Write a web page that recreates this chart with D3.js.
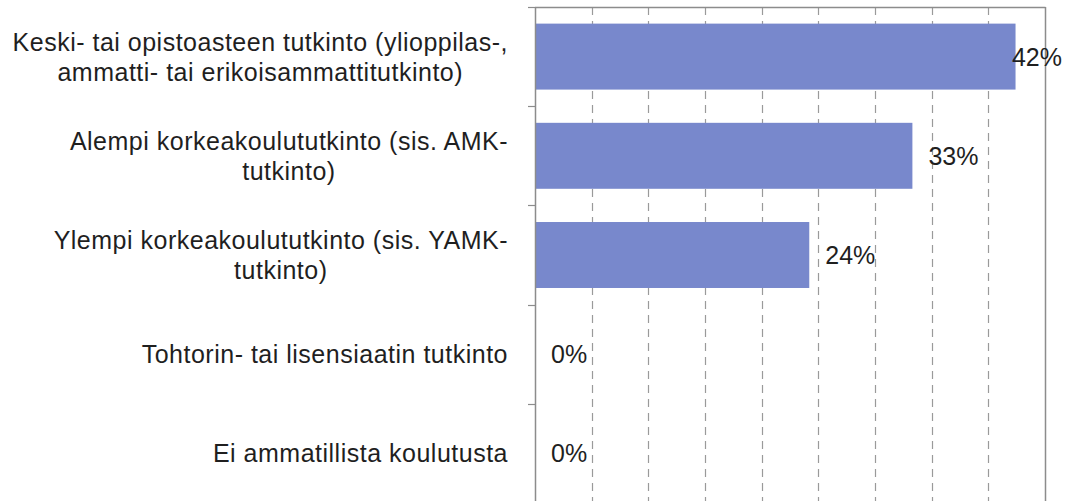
<!DOCTYPE html>
<html>
<head>
<meta charset="utf-8">
<script src="https://cdn.jsdelivr.net/npm/d3@7"></script>
<style>
  html, body { margin: 0; padding: 0; background: #fff; }
  svg { display: block; }
  text { font-family: "Liberation Sans", Arial, sans-serif; fill: #1f1f1f; }
</style>
</head>
<body>
<svg id="chart" width="1066" height="501"></svg>
<script>
// ---- data ----
const categories = [
  ["Keski- tai opistoasteen tutkinto (ylioppilas-,", "ammatti- tai erikoisammattitutkinto)"],
  ["Alempi korkeakoulututkinto (sis. AMK-", "tutkinto)"],
  ["Ylempi korkeakoulututkinto (sis. YAMK-", "tutkinto)"],
  ["Tohtorin- tai lisensiaatin tutkinto"],
  ["Ei ammatillista koulutusta"]
];
const values = [42.4, 33.3, 24.2, 0, 0];
const valueLabels = ["42%", "33%", "24%", "0%", "0%"];
const xTicks = [0, 5, 10, 15, 20, 25, 30, 35, 40, 45];

(function () {
// ---- layout ----
const W = 1066, H = 501;
const pLeft = 535, pRight = 1045, pTop = 7, pBottom = 503;
const svg = d3.select("#chart");

const x = d3.scaleLinear().domain([0, 45]).range([pLeft, pRight]);
const y = d3.scaleBand().domain(d3.range(categories.length))
  .range([pTop, pBottom]).paddingInner(0.335).paddingOuter(0.1675);

const gridColor = "#8c8c8c";

// gridlines (dashed)
svg.append("g").selectAll("line")
  .data(xTicks.slice(1, -1))
  .join("line")
  .attr("x1", d => Math.round(x(d)) + 0.5).attr("x2", d => Math.round(x(d)) + 0.5)
  .attr("y1", pTop).attr("y2", pBottom)
  .attr("stroke", "#9a9a9a").attr("stroke-width", 1.2)
  .attr("stroke-dasharray", "8,6");

// plot frame: top and right borders
svg.append("line")
  .attr("x1", pLeft).attr("x2", pRight + 0.5)
  .attr("y1", pTop + 0.5).attr("y2", pTop + 0.5)
  .attr("stroke", gridColor).attr("stroke-width", 1.5);
svg.append("line")
  .attr("x1", Math.round(x(xTicks[xTicks.length - 1])) + 0.5)
  .attr("x2", Math.round(x(xTicks[xTicks.length - 1])) + 0.5)
  .attr("y1", pTop).attr("y2", pBottom)
  .attr("stroke", gridColor).attr("stroke-width", 1.5);

// bars
svg.append("g").selectAll("rect")
  .data(values)
  .join("rect")
  .attr("x", x(0))
  .attr("y", (d, i) => y(i))
  .attr("width", d => x(d) - x(0))
  .attr("height", y.bandwidth())
  .attr("fill", "#7888cc");

// left axis with category boundary ticks
const step = y.step();
const boundaries = d3.range(categories.length + 1).map(i =>
  i < categories.length ? y(i) - step * y.paddingInner() / 2 : y(i - 1) + y.bandwidth() + step * y.paddingInner() / 2);
svg.append("line")
  .attr("x1", pLeft + 0.5).attr("x2", pLeft + 0.5)
  .attr("y1", pTop).attr("y2", pBottom)
  .attr("stroke", gridColor).attr("stroke-width", 1.5);
svg.append("g").selectAll("line")
  .data(boundaries)
  .join("line")
  .attr("x1", pLeft - 7).attr("x2", pLeft)
  .attr("y1", d => Math.round(d) + 0.5).attr("y2", d => Math.round(d) + 0.5)
  .attr("stroke", gridColor).attr("stroke-width", 1.2);

// category labels (multi-line, lines centred within a right-aligned block)
const fs = 25, lh = 30, labelRight = 508;
const catG = svg.append("g");
categories.forEach((lines, i) => {
  const cy = y(i) + y.bandwidth() / 2;
  const g = catG.append("g");
  const texts = lines.map(l => g.append("text")
    .attr("font-size", fs).attr("letter-spacing", "0.5px").text(l));
  const widths = texts.map(t => t.node().getComputedTextLength());
  const bw = d3.max(widths);
  const cx = labelRight - bw / 2;
  const n = lines.length;
  texts.forEach((t, k) => {
    t.attr("x", cx).attr("text-anchor", "middle")
     .attr("y", cy + (k - (n - 1) / 2) * lh + fs * 0.36);
  });
});

// value labels
svg.append("g").selectAll("text")
  .data(values)
  .join("text")
  .attr("font-size", fs)
  .attr("y", (d, i) => y(i) + y.bandwidth() / 2 + fs * 0.36)
  .text((d, i) => valueLabels[i])
  .each(function (d) {
    const w = this.getComputedTextLength();
    let px = x(d) + 16;
    if (px + w > W - 4) px = W - 4 - w;
    d3.select(this).attr("x", px);
  });
})();
</script>
</body>
</html>
